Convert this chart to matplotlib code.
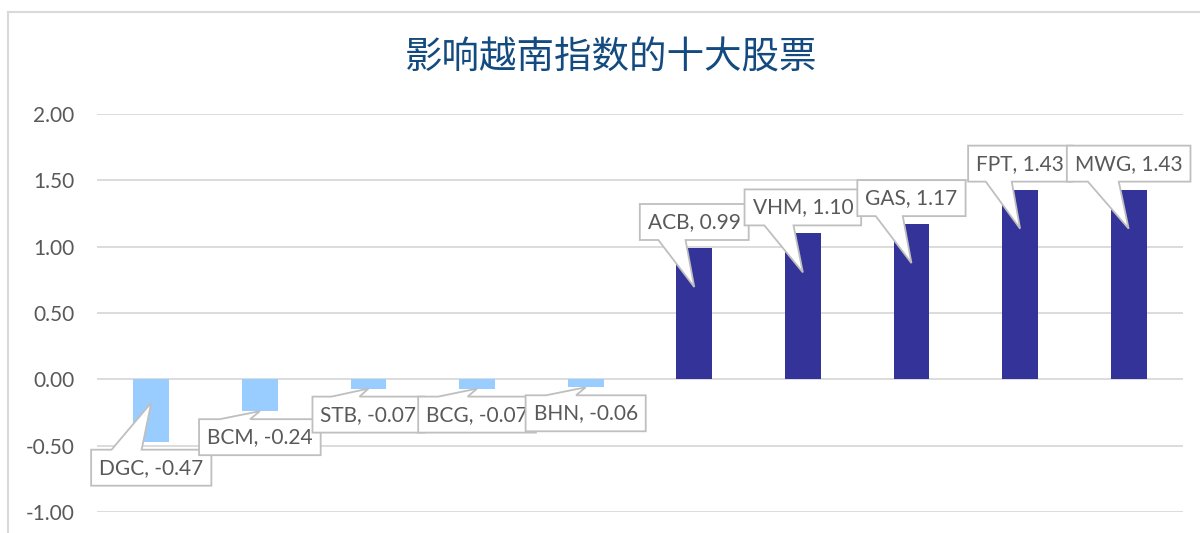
import matplotlib
matplotlib.use("Agg")
import matplotlib.pyplot as plt
from matplotlib.patches import Polygon
from matplotlib.lines import Line2D
from matplotlib.transforms import IdentityTransform

# 数据
stocks = ["DGC", "BCM", "STB", "BCG", "BHN", "ACB", "VHM", "GAS", "FPT", "MWG"]
impact = [-0.47, -0.24, -0.07, -0.07, -0.06, 0.99, 1.10, 1.17, 1.43, 1.43]
yticks = [-1.0, -0.5, 0.0, 0.5, 1.0, 1.5, 2.0]
title = "影响越南指数的十大股票"

NEG = "#99ccff"
POS = "#333399"
EDGE = "#bfbfbf"
GRID = "#d9d9d9"
TXT = "#595959"

plt.rcParams["font.family"] = ["Lato", "DejaVu Sans"]

fig = plt.figure(figsize=(12, 5.33), dpi=100)
ax = fig.add_axes([0.0808, 0.0394, 0.905, 0.7467])
xs = list(range(len(stocks)))
ax.bar(xs, impact, width=0.33, color=[POS if v > 0 else NEG for v in impact], zorder=2)
ax.set_xlim(-0.5, len(stocks) - 0.5)
ax.set_ylim(-1.0, 2.0)
ax.set_yticks(yticks)
ax.set_yticklabels([f"{t:.2f}" for t in yticks])
ax.set_xticks([])
ax.tick_params(axis="y", length=0, pad=16, labelsize=15, labelcolor=TXT)
ax.grid(axis="y", color=GRID, lw=1.3)
ax.set_axisbelow(True)
for s in ax.spines.values():
    s.set_visible(False)

fig.text(0.509, 0.891, title, family=["Noto Sans CJK SC"], fontsize=27,
         color="#134b80", ha="center", va="center")

# 外框（只见左边和上边）
fig.add_artist(Line2D([0.0067, 0.0067], [0, 0.977], color=GRID, lw=1.5))
fig.add_artist(Line2D([0.0067, 1], [0.977, 0.977], color=GRID, lw=1.5))

# 数据标签（带指针的标注框）
texts = []
for i, (name, v) in enumerate(zip(stocks, impact)):
    up = 1 if v > 0 else -1
    t = ax.annotate(f"{name}, {v:.2f}", xy=(i, v), xytext=(0, 26 * up),
                    textcoords="offset pixels", ha="center", va="center",
                    fontsize=15, color=TXT, zorder=5 + i * 0.1 + 0.05,
                    annotation_clip=False)
    texts.append(t)

fig.canvas.draw()
r = fig.canvas.get_renderer()
for i, (t, v) in enumerate(zip(texts, impact)):
    bb = t.get_window_extent(r)
    x0, x1 = bb.x0 - 8, bb.x1 + 8
    cy = (bb.y0 + bb.y1) / 2
    y0, y1 = cy - 18, cy + 18
    bx, by = ax.transData.transform((i, v))
    _, zy = ax.transData.transform((i, 0))
    depth = 39 if abs(by - zy) > 50 else 0
    w = x1 - x0
    xb1, xb2 = x0 + 0.17 * w, x0 + 0.42 * w
    if v > 0:
        tip = (bx, by - depth)
        verts = [(x0, y1), (x1, y1), (x1, y0), (xb2, y0), tip, (xb1, y0), (x0, y0)]
    else:
        tip = (bx, by + depth)
        verts = [(x0, y0), (x1, y0), (x1, y1), (xb2, y1), tip, (xb1, y1), (x0, y1)]
    p = Polygon(verts, closed=True, transform=IdentityTransform(), fc="white",
                ec=EDGE, lw=1.3, zorder=5 + i * 0.1, clip_on=False)
    ax.add_artist(p)

fig.savefig("out.png", dpi=100)
